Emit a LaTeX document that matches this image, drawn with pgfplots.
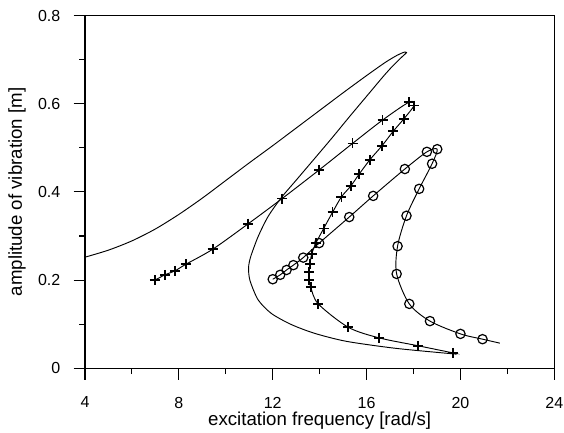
\documentclass[border=0pt]{standalone}
\usepackage{pgfplots}
\pgfplotsset{compat=1.18}
\usepackage{fontspec}
\setmainfont{Liberation Sans}
\begin{document}
\begin{tikzpicture}
\begin{axis}[
 scale only axis, width=352pt, height=264.5pt,
 xmin=4, xmax=24, ymin=0, ymax=0.8,
 xtick={4,8,12,16,20,24}, ytick={0,0.2,0.4,0.6,0.8},
 minor x tick num=1, minor y tick num=1,
 tick align=outside, xtick pos=bottom, ytick pos=left,
 major tick length=8.5pt, minor tick length=4.3pt,
 every tick/.style={line width=0.8pt, black},
 axis line style={line width=0.9pt},
 ticklabel style={font=\fontsize{12}{14}\selectfont},
 xticklabel style={yshift=-9.5pt},
 yticklabel style={xshift=-6.5pt, /pgf/number format/fixed},
 /pgf/number format/assume math mode=true,
 xlabel={excitation frequency [rad/s]},
 ylabel={amplitude of vibration [m]},
 label style={font=\fontsize{14}{16}\selectfont},
 xlabel style={at={(axis description cs:0.5,-0.1636)}, anchor=base},
 ylabel style={at={(axis description cs:-0.145,0.5)}, anchor=center},
]
% response curve (no markers)
\addplot[black, line width=0.7pt, smooth, tension=0.45] coordinates {
(4,0.252)(5,0.268)(6,0.289)(7,0.316)(8,0.349)(9,0.386)(10,0.426)(11,0.466)(12,0.505)
(13,0.545)(14,0.585)(15,0.625)(16,0.664)(16.8,0.694)(17.3,0.710)(17.6,0.717)(17.7,0.716)
(17.5,0.706)(17.1,0.685)(16.71,0.662)(16.0,0.617)(15.29,0.572)(14.58,0.526)(14.01,0.490)
(13.02,0.428)(12.38,0.388)(11.81,0.345)(11.38,0.299)(11.06,0.253)(10.97,0.228)(11.03,0.199)
(11.38,0.155)(11.95,0.124)(12.80,0.099)(13.8,0.079)(15.15,0.061)(17.28,0.045)(19.84,0.032)
};
% plus series (line)
\addplot[black, line width=0.7pt, smooth, tension=0.5] coordinates {
(6.98,0.200)(7.41,0.212)(7.83,0.221)(8.30,0.236)(9.44,0.270)(10.96,0.328)(12.40,0.385)
(13.98,0.450)(15.40,0.510)(16.68,0.563)(17.82,0.604)(18.02,0.596)(17.59,0.566)(17.14,0.538)
(16.66,0.505)(16.14,0.473)(15.69,0.441)(15.32,0.413)(14.93,0.389)(14.55,0.354)(14.17,0.317)
(13.84,0.284)(13.66,0.259)(13.59,0.237)(13.56,0.219)(13.56,0.200)(13.62,0.184)(13.94,0.146)
(15.22,0.093)(16.53,0.069)(18.20,0.051)(19.67,0.035)(19.8,0.034)
};
% plus markers
\addplot[only marks, mark=+, mark size=3.75pt, line width=1.3pt, black] coordinates {
(6.98,0.200)(7.41,0.212)(7.83,0.221)(8.30,0.236)(9.44,0.270)(10.96,0.328)(12.40,0.385)
(13.98,0.450)(15.40,0.510)(16.68,0.563)(17.82,0.604)(18.02,0.596)(17.59,0.566)(17.14,0.538)
(16.66,0.505)(16.14,0.473)(15.69,0.441)(15.32,0.413)(14.93,0.389)(14.55,0.354)(14.17,0.317)
(13.84,0.284)(13.66,0.259)(13.59,0.237)(13.56,0.219)(13.56,0.200)(13.62,0.184)(13.94,0.146)
(15.22,0.093)(16.53,0.069)(18.20,0.051)(19.67,0.035)
};
% circle series (line)
\addplot[black, line width=0.7pt, smooth, tension=0.5] coordinates {
(12.0,0.202)(12.32,0.212)(12.59,0.223)(12.88,0.234)(13.30,0.251)(13.98,0.284)(15.26,0.343)
(16.28,0.391)(17.63,0.452)(18.57,0.491)(19.01,0.497)(18.79,0.464)(18.24,0.407)(17.70,0.346)
(17.32,0.277)(17.28,0.214)(17.82,0.146)(18.70,0.107)(20.0,0.078)(20.94,0.066)(21.68,0.057)
};
% circle markers
\addplot[only marks, mark=o, mark size=3.5pt, line width=0.9pt, black] coordinates {
(12.0,0.202)(12.32,0.212)(12.59,0.223)(12.88,0.234)(13.30,0.251)(13.98,0.284)(15.26,0.343)
(16.28,0.391)(17.63,0.452)(18.57,0.491)(19.01,0.497)(18.79,0.464)(18.24,0.407)(17.70,0.346)
(17.32,0.277)(17.28,0.214)(17.82,0.146)(18.70,0.107)(20.0,0.078)(20.94,0.066)
};
\end{axis}
\pgfresetboundingbox
\useasboundingbox (-63.75pt,-48.5pt) rectangle (359.25pt,276.2pt);
\end{tikzpicture}
\end{document}
